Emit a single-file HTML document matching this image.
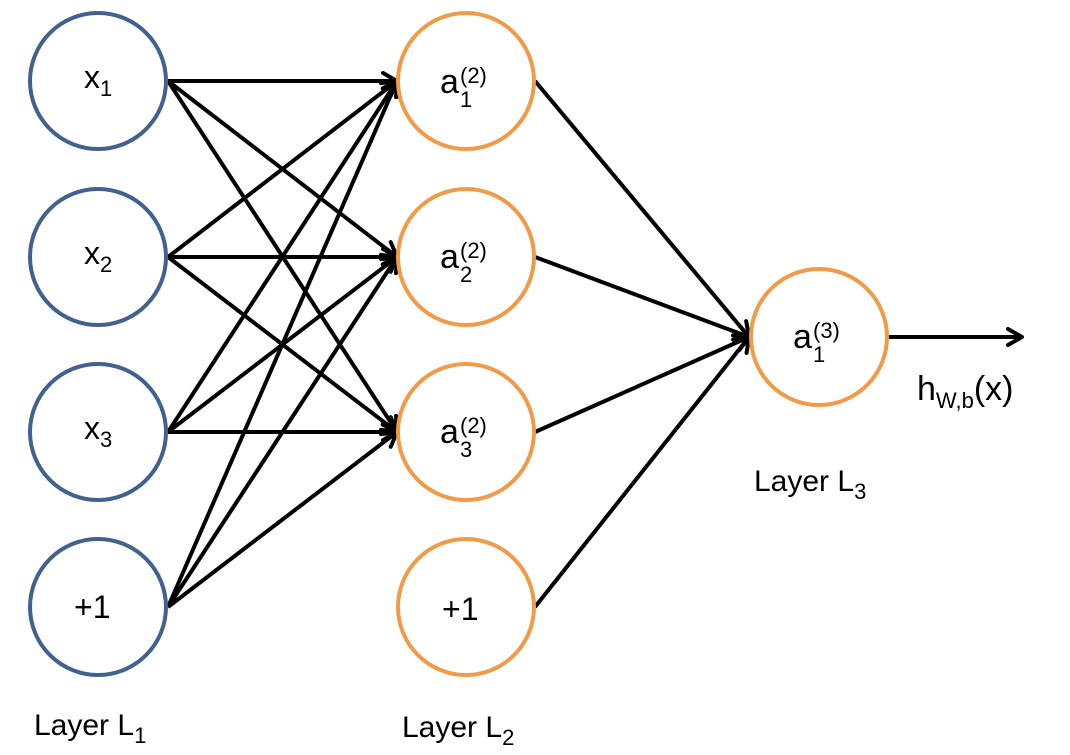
<!DOCTYPE html>
<html><head><style>
html,body{margin:0;padding:0;background:#fff;}
svg{display:block;font-family:"Liberation Sans",sans-serif;}
</style></head><body>
<svg width="1070" height="755" viewBox="0 0 1070 755" xmlns="http://www.w3.org/2000/svg">
<defs>
<marker id="a" viewBox="0 0 20 20" refX="18" refY="10" markerWidth="20" markerHeight="20" markerUnits="userSpaceOnUse" orient="auto">
<polyline points="4,2 18,10 4,18" fill="none" stroke="#000" stroke-width="4" stroke-linecap="round" stroke-linejoin="round"/>
</marker>
</defs>
<g stroke="#000" stroke-width="4" fill="none" marker-end="url(#a)">
<!-- layer1 to layer2 -->
<line x1="168" y1="81" x2="397" y2="81"/>
<line x1="168" y1="81" x2="397" y2="257"/>
<line x1="168" y1="81" x2="397" y2="432"/>
<line x1="168" y1="257" x2="397" y2="81"/>
<line x1="168" y1="257" x2="397" y2="257"/>
<line x1="168" y1="257" x2="397" y2="432"/>
<line x1="168" y1="432" x2="397" y2="81"/>
<line x1="168" y1="432" x2="397" y2="257"/>
<line x1="168" y1="432" x2="397" y2="432"/>
<line x1="168" y1="607" x2="397" y2="81"/>
<line x1="168" y1="607" x2="397" y2="257"/>
<line x1="168" y1="607" x2="397" y2="432"/>
<!-- layer2 to layer3 -->
<line x1="535" y1="81" x2="749" y2="337"/>
<line x1="535" y1="257" x2="749" y2="337"/>
<line x1="535" y1="432" x2="749" y2="337"/>
<line x1="535" y1="607" x2="749" y2="337"/>
<line x1="888" y1="337" x2="1022" y2="337"/>
</g>
<g fill="#fff" stroke-width="4">
<circle cx="98" cy="81" r="68" stroke="#41618e"/>
<circle cx="98" cy="257" r="68" stroke="#41618e"/>
<circle cx="98" cy="432" r="68" stroke="#41618e"/>
<circle cx="98" cy="607" r="68" stroke="#41618e"/>
<circle cx="466" cy="81" r="68" stroke="#ef9b4a"/>
<circle cx="466" cy="257" r="68" stroke="#ef9b4a"/>
<circle cx="466" cy="432" r="68" stroke="#ef9b4a"/>
<circle cx="466" cy="607" r="68" stroke="#ef9b4a"/>
<circle cx="819" cy="337" r="68" stroke="#ef9b4a"/>
</g>
<g fill="#000" font-size="32">
<text x="84" y="88">x<tspan font-size="22" dy="8">1</tspan></text>
<text x="84" y="264">x<tspan font-size="22" dy="8">2</tspan></text>
<text x="84" y="439">x<tspan font-size="22" dy="8">3</tspan></text>
<text x="74" y="618">+1</text>
<text x="442" y="620">+1</text>
<g font-size="34">
<text x="440" y="93">a</text><text x="460" y="83" font-size="22">(2)</text><text x="460" y="107" font-size="22">1</text>
<text x="440" y="268">a</text><text x="460" y="258" font-size="22">(2)</text><text x="460" y="282" font-size="22">2</text>
<text x="440" y="443">a</text><text x="460" y="433" font-size="22">(2)</text><text x="460" y="457" font-size="22">3</text>
<text x="793" y="348">a</text><text x="813" y="338" font-size="22">(3)</text><text x="813" y="362" font-size="22">1</text>
</g>
<text x="917" y="400" font-size="34">h<tspan font-size="22" dy="8">W,b</tspan><tspan dy="-8">(x)</tspan></text>
<text x="34" y="735" font-size="30">Layer L<tspan font-size="22" dy="8">1</tspan></text>
<text x="402" y="737" font-size="30">Layer L<tspan font-size="22" dy="8">2</tspan></text>
<text x="754" y="491" font-size="30">Layer L<tspan font-size="22" dy="8">3</tspan></text>
</g>
</svg>
</body></html>
